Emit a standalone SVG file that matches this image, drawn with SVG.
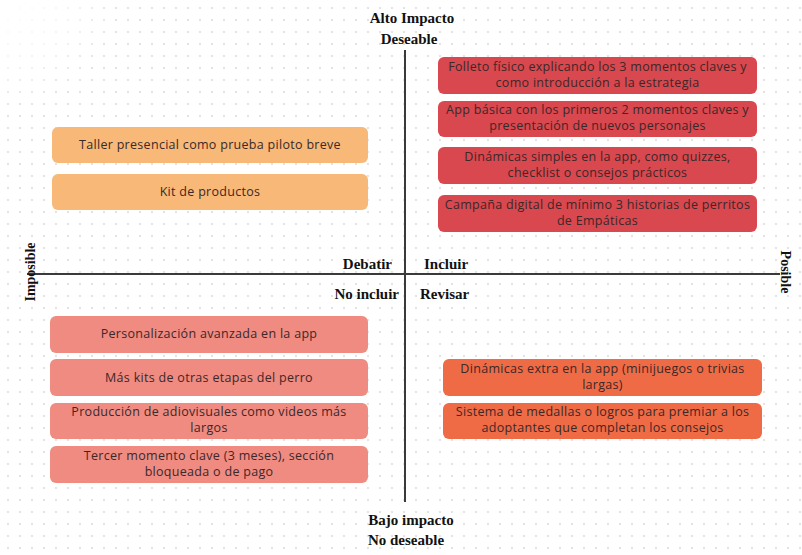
<svg xmlns="http://www.w3.org/2000/svg" width="802" height="555" viewBox="0 0 802 555">
  <defs>
    <pattern id="dots" x="2" y="2" width="12" height="12" patternUnits="userSpaceOnUse">
      <circle cx="6" cy="6" r="0.9" fill="#d6d6d6"/>
    </pattern>
    <radialGradient id="fade" cx="0" cy="0" r="1">
      <stop offset="0" stop-color="#fff" stop-opacity="1"/>
      <stop offset="0.6" stop-color="#fff" stop-opacity="0.6"/>
      <stop offset="1" stop-color="#fff" stop-opacity="0"/>
    </radialGradient>
  </defs>
  <style>
    .axis { stroke: #3a3a3a; stroke-width: 2; fill: none; }
    .lbl { font-family: "Liberation Serif", "DejaVu Serif", serif; font-weight: bold; font-size: 15px; fill: #111; }
    .vlbl { font-size: 14px; }
    .box text { font-family: "Open Sans", "Noto Sans", sans-serif; font-size: 12.5px; letter-spacing: 0.3px; fill: #3b2828; text-anchor: middle; }
    .red { fill: #d9474f; }
    .peach { fill: #f7b878; }
    .pink { fill: #f08b82; }
    .coral { fill: #ef6b45; }
  </style>

  <!-- background with dot grid -->
  <rect width="802" height="555" fill="#fff"/>
  <rect width="802" height="555" fill="url(#dots)"/>
  <rect x="0" y="0" width="120" height="110" fill="url(#fade)"/>

  <!-- axes -->
  <g id="connectors">
    <line class="axis" x1="405" y1="50" x2="405" y2="502"/>
    <line class="axis" x1="27" y1="274" x2="780" y2="274"/>
  </g>

  <!-- axis labels -->
  <g id="axis-labels">
    <text class="lbl" x="412" y="23" text-anchor="middle">Alto Impacto</text>
    <text class="lbl" x="409" y="44" text-anchor="middle">Deseable</text>
    <text class="lbl" x="411" y="525" text-anchor="middle">Bajo impacto</text>
    <text class="lbl" x="406" y="545" text-anchor="middle">No deseable</text>
    <text class="lbl" x="392" y="269" text-anchor="end">Debatir</text>
    <text class="lbl" x="424" y="269">Incluir</text>
    <text class="lbl" x="399" y="299" text-anchor="end">No incluir</text>
    <text class="lbl" x="420" y="299">Revisar</text>
    <text class="lbl vlbl" transform="translate(35,272) rotate(-90)" text-anchor="middle">Imposible</text>
    <text class="lbl vlbl" transform="translate(781,272) rotate(90)" text-anchor="middle">Posible</text>
  </g>

  <!-- Incluir quadrant -->
  <g id="folleto" class="box">
    <rect class="red" x="438" y="57" width="319" height="37" rx="6"/>
    <text x="597.5" y="71">Folleto físico explicando los 3 momentos claves y</text>
    <text x="597.5" y="87">como introducción a la estrategia</text>
  </g>
  <g id="app-basica" class="box">
    <rect class="red" x="438" y="101" width="319" height="36" rx="6"/>
    <text x="597.5" y="114">App básica con los primeros 2 momentos claves y</text>
    <text x="597.5" y="130">presentación de nuevos personajes</text>
  </g>
  <g id="dinamicas-simples" class="box">
    <rect class="red" x="438" y="147" width="319" height="37" rx="6"/>
    <text x="597.5" y="161">Dinámicas simples en la app, como quizzes,</text>
    <text x="597.5" y="177">checklist o consejos prácticos</text>
  </g>
  <g id="campana" class="box">
    <rect class="red" x="438" y="195" width="319" height="37" rx="6"/>
    <text x="597.5" y="209">Campaña digital de mínimo 3 historias de perritos</text>
    <text x="597.5" y="225">de Empáticas</text>
  </g>

  <!-- Debatir quadrant -->
  <g id="taller" class="box">
    <rect class="peach" x="52" y="127" width="316" height="36" rx="6"/>
    <text x="210" y="149">Taller presencial como prueba piloto breve</text>
  </g>
  <g id="kit" class="box">
    <rect class="peach" x="52" y="174" width="316" height="36" rx="6"/>
    <text x="210" y="196">Kit de productos</text>
  </g>

  <!-- No incluir quadrant -->
  <g id="personalizacion" class="box">
    <rect class="pink" x="50" y="316" width="318" height="37" rx="6"/>
    <text x="209" y="338">Personalización avanzada en la app</text>
  </g>
  <g id="mas-kits" class="box">
    <rect class="pink" x="50" y="359" width="318" height="37" rx="6"/>
    <text x="209" y="382">Más kits de otras etapas del perro</text>
  </g>
  <g id="produccion" class="box">
    <rect class="pink" x="50" y="403" width="318" height="36" rx="6"/>
    <text x="209" y="416">Producción de adiovisuales como videos más</text>
    <text x="209" y="432">largos</text>
  </g>
  <g id="tercer-momento" class="box">
    <rect class="pink" x="50" y="446" width="318" height="37" rx="6"/>
    <text x="209" y="460">Tercer momento clave (3 meses), sección</text>
    <text x="209" y="476">bloqueada o de pago</text>
  </g>

  <!-- Revisar quadrant -->
  <g id="dinamicas-extra" class="box">
    <rect class="coral" x="443" y="359" width="319" height="37" rx="6"/>
    <text x="602.5" y="373">Dinámicas extra en la app (minijuegos o trivias</text>
    <text x="602.5" y="389">largas)</text>
  </g>
  <g id="medallas" class="box">
    <rect class="coral" x="443" y="403" width="319" height="36" rx="6"/>
    <text x="602.5" y="416">Sistema de medallas o logros para premiar a los</text>
    <text x="602.5" y="432">adoptantes que completan los consejos</text>
  </g>
</svg>
